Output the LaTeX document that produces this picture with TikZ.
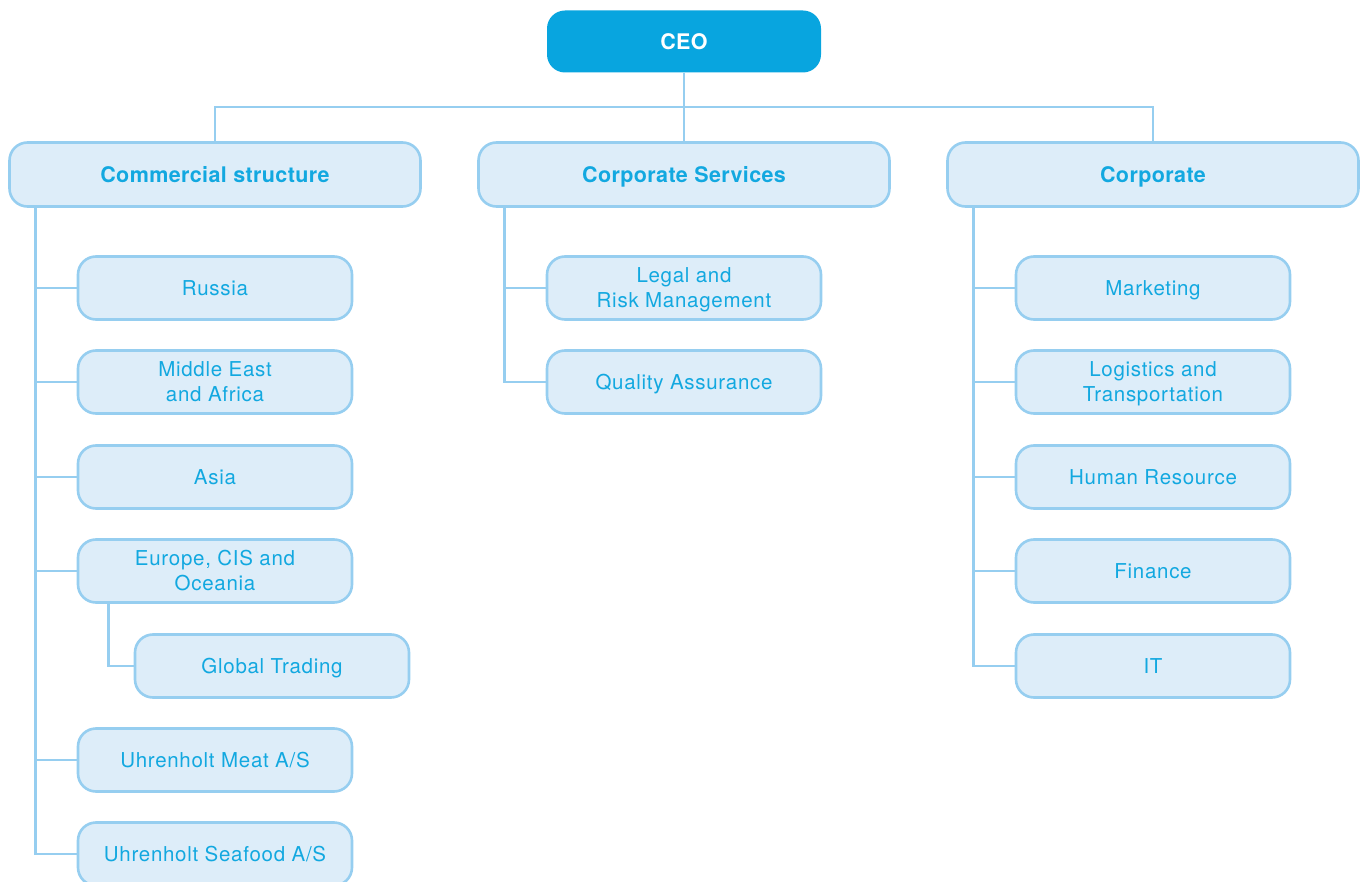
\documentclass[tikz,border=0pt]{standalone}
\usepackage{fontspec}
\setmainfont{TeX Gyre Heros}
\newfontfamily\unitfont[LetterSpace=3.5]{TeX Gyre Heros}
\newfontfamily\headfont[LetterSpace=1.8]{TeX Gyre Heros}
\definecolor{ceoblue}{RGB}{8,165,223}
\definecolor{txtblue}{RGB}{18,168,224}
\definecolor{lineblue}{RGB}{150,206,240}
\definecolor{boxfill}{RGB}{221,237,249}
\begin{document}
\begin{tikzpicture}[x=1pt,y=-1pt,
  conn/.style={draw=lineblue,line width=2.6pt},
  unit/.style={draw=lineblue,line width=2.6pt,fill=boxfill,rounded corners=18pt,
    text=txtblue,font=\unitfont\fontsize{20.5}{25}\selectfont,align=center,
    minimum width=274pt,minimum height=63pt,inner sep=0pt,
    text height=14.7pt,text depth=0pt},
  two/.style={text height=39.7pt,text depth=0pt},
  head/.style={unit,minimum width=411pt,minimum height=64pt,
    font=\headfont\fontsize{21.5}{25}\selectfont\bfseries,text height=15.4pt},
  top/.style={fill=ceoblue,rounded corners=18pt,text=white,
    font=\headfont\fontsize{21.5}{25}\selectfont\bfseries,
    minimum width=274pt,minimum height=62pt,inner sep=0pt,
    text height=15.4pt,text depth=0pt}]
\useasboundingbox (0,0) rectangle (1365,882);

% top of the chart
\node[top] (ceo) at (684,41.5) {CEO};
\node[head] (comm) at (215,174.5) {Commercial structure};
\node[head] (serv) at (684,174.5) {Corporate Services};
\node[head] (corp) at (1153,174.5) {Corporate};

% commercial structure units
\node[unit] (russia) at (215,288) {Russia};
\node[unit,two] (mea) at (215,382) {Middle East\\and Africa};
\node[unit] (asia) at (215,477) {Asia};
\node[unit,two] (europe) at (215,571) {Europe, CIS and\\Oceania};
\node[unit] (global) at (272,666) {Global Trading};
\node[unit] (meat) at (215,760) {Uhrenholt Meat A/S};
\node[unit] (seafood) at (215,854) {Uhrenholt Seafood A/S};

% corporate services units
\node[unit,two] (legal) at (684,288) {Legal and\\Risk Management};
\node[unit] (qa) at (684,382) {Quality Assurance};

% corporate units
\node[unit] (mkt) at (1153,288) {Marketing};
\node[unit,two] (log) at (1153,382) {Logistics and\\Transportation};
\node[unit] (hr) at (1153,477) {Human Resource};
\node[unit] (fin) at (1153,571) {Finance};
\node[unit] (it) at (1153,666) {IT};

% bus under the CEO
\coordinate (bus) at (684,107);
\draw[conn] (ceo.south) -- (serv.north);
\draw[conn] (comm.north) |- (bus) -| (corp.north);

% trunks feeding each column
\coordinate (commT) at ([xshift=27pt]comm.south west);
\coordinate (servT) at ([xshift=27pt]serv.south west);
\coordinate (corpT) at ([xshift=27pt]corp.south west);
\coordinate (euroT) at ([xshift=32pt]europe.south west);

\foreach \n in {russia,mea,asia,europe,meat,seafood}
  \draw[conn] (commT) |- (\n.west);
\draw[conn] (euroT) |- (global.west);
\foreach \n in {legal,qa}
  \draw[conn] (servT) |- (\n.west);
\foreach \n in {mkt,log,hr,fin,it}
  \draw[conn] (corpT) |- (\n.west);
\end{tikzpicture}
\end{document}
